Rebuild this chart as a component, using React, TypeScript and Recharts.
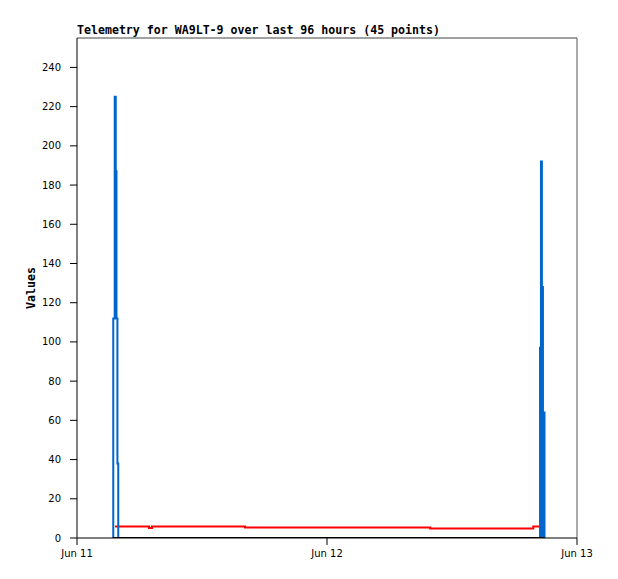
import React from 'react';
import { LineChart, Line, XAxis, YAxis, ReferenceLine } from 'recharts';

const chartTitle = 'Telemetry for WA9LT-9 over last 96 hours (45 points)';
const yLabel = 'Values';

// x is hours after Jun 11 00:00
const xTicks = [0, 24, 48];
const xTickLabels = ['Jun 11', 'Jun 12', 'Jun 13'];
const yTicks = [0, 20, 40, 60, 80, 100, 120, 140, 160, 180, 200, 220, 240];
const yMax = 255;

const blueTimes = [
  3.44, 3.48, 3.62, 3.72, 3.79, 3.88, 3.96,
  44.45, 44.53, 44.54, 44.63, 44.64, 44.73, 44.74, 44.88,
];
const blueValues = [
  0, 112, 225, 187, 112, 38, 0,
  97, 0, 192, 0, 128, 0, 64, 0,
];

const redTimes = [3.65, 6.91, 7.2, 16.13, 33.9, 43.8, 44.88];
const redValues = [5.9, 5.1, 5.9, 5.4, 4.9, 5.9, 5.9];

const blackTimes = [3.44, 44.88];
const blackValues = [0, 0];

const toRows = (times: number[], values: number[]) =>
  times.map((t, i) => ({ t, v: values[i] }));

const blueData = toRows(blueTimes, blueValues);
const redData = toRows(redTimes, redValues);
const blackData = toRows(blackTimes, blackValues);

const tickStyle = { fontFamily: 'DejaVu Sans', fontSize: 10, fill: '#000' };
const monoBold: React.CSSProperties = {
  position: 'absolute',
  fontFamily: '"DejaVu Sans Mono", monospace',
  fontWeight: 'bold',
  fontSize: 11.6,
  lineHeight: 1,
  color: '#000',
  whiteSpace: 'nowrap',
};

export default function App() {
  return (
    <div style={{ position: 'absolute', left: 0, top: 0, width: 618, height: 579, background: '#fff' }}>
      <LineChart width={618} height={579} margin={{ top: 38, right: 41, bottom: 0, left: 0 }}>
        <XAxis
          dataKey="t"
          type="number"
          domain={[0, 48]}
          ticks={xTicks}
          tickFormatter={(v: number) => xTickLabels[xTicks.indexOf(v)]}
          height={41}
          tickSize={7}
          tickMargin={5}
          stroke="#000"
          tick={tickStyle}
          allowDataOverflow
        />
        <YAxis
          type="number"
          domain={[0, yMax]}
          ticks={yTicks}
          interval={0}
          width={77}
          tickSize={7}
          tickMargin={9}
          stroke="#000"
          tick={tickStyle}
          allowDataOverflow
        />
        <ReferenceLine y={yMax} stroke="#444" strokeWidth={1} />
        <ReferenceLine x={48} stroke="#555" strokeWidth={1} />
        <Line data={redData} dataKey="v" type="stepAfter" stroke="#ff0000" strokeWidth={2} dot={false} isAnimationActive={false} />
        <Line data={blueData} dataKey="v" type="stepAfter" stroke="#0066cc" strokeWidth={2} dot={false} isAnimationActive={false} />
        <Line data={blackData} dataKey="v" type="stepAfter" stroke="#000" strokeWidth={2} dot={false} isAnimationActive={false} />
      </LineChart>
      <div style={{ ...monoBold, left: 77, top: 25 }}>{chartTitle}</div>
      <div
        style={{
          ...monoBold,
          left: 32,
          top: 288,
          transform: 'translate(-50%, -50%) rotate(-90deg)',
        }}
      >
        {yLabel}
      </div>
    </div>
  );
}
